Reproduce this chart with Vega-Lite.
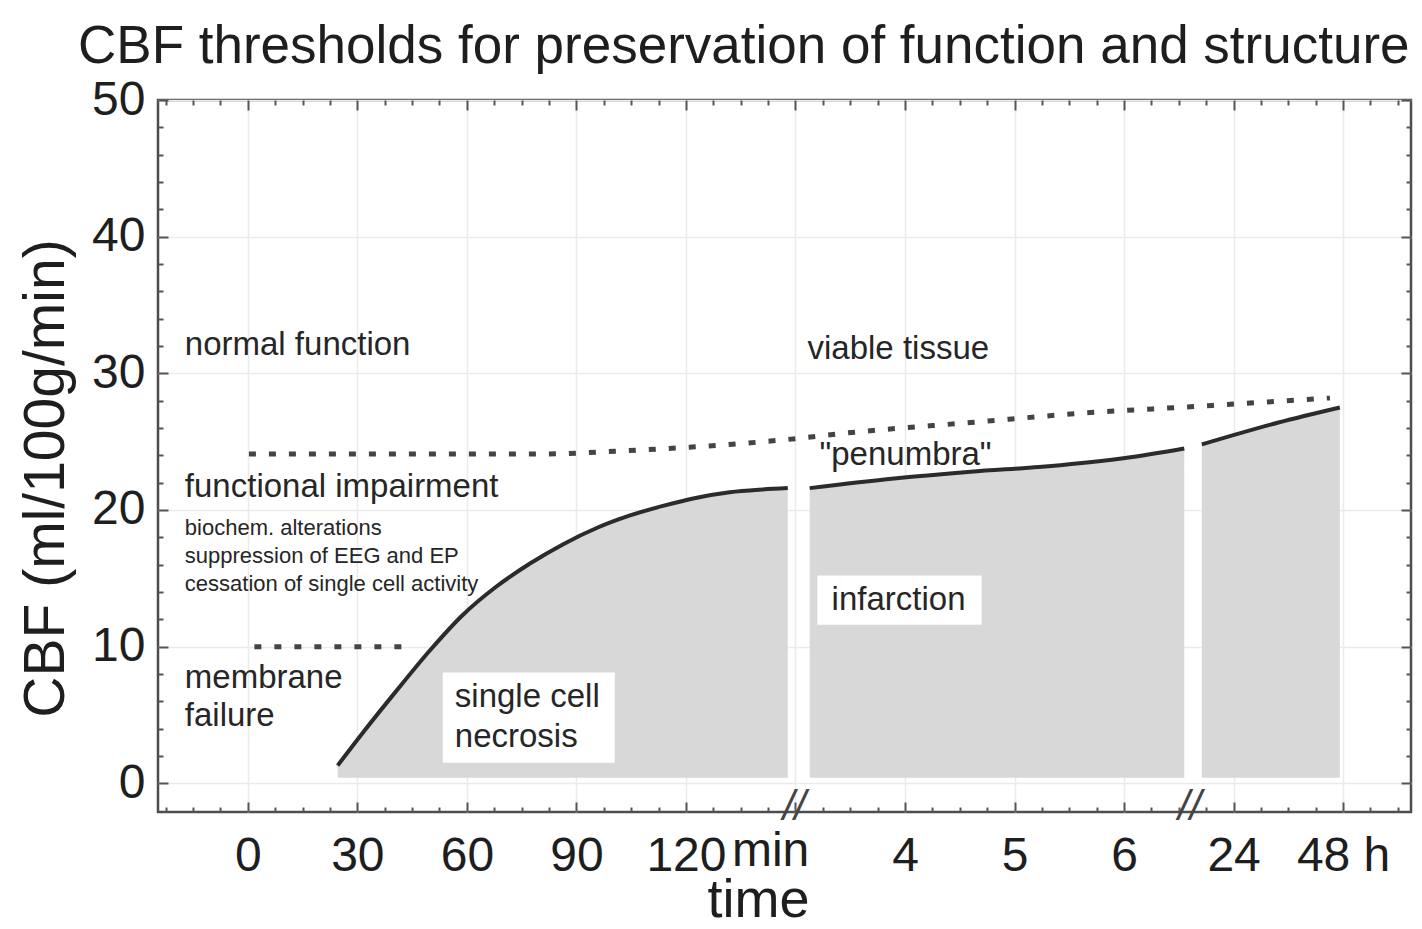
{
  "$schema": "https://vega.github.io/schema/vega-lite/v6.json",
  "width": 1253,
  "height": 712,
  "autosize": {"type": "none"},
  "padding": {"left": 158, "top": 100, "right": 11, "bottom": 117},
  "background": "white",
  "config": {
    "font": "Liberation Sans",
    "view": {"stroke": "#4d4d4d", "strokeWidth": 2.5},
    "axis": {
      "labelFont": "Liberation Sans",
      "labelFontSize": 48,
      "labelColor": "#1e1e1e",
      "tickColor": "#555555",
      "tickWidth": 2,
      "domain": false,
      "grid": false,
      "gridColor": "#ebebeb",
      "gridWidth": 1.5,
      "titleFont": "Liberation Sans",
      "titleFontWeight": "normal",
      "titleColor": "#1e1e1e"
    },
    "text": {"font": "Liberation Sans", "color": "#262626"}
  },
  "title": {
    "text": "CBF thresholds for preservation of function and structure",
    "anchor": "start",
    "frame": "group",
    "dx": -80,
    "offset": -40,
    "baseline": "alphabetic",
    "fontSize": 53,
    "fontWeight": "normal",
    "font": "Liberation Sans",
    "color": "#1e1e1e"
  },
  "datasets": {
    "curve": [
      {"seg": 1, "x": 0.82, "y": 1.3},
      {"seg": 1, "x": 1.05, "y": 3.7},
      {"seg": 1, "x": 1.36, "y": 6.8},
      {"seg": 1, "x": 1.66, "y": 9.7},
      {"seg": 1, "x": 1.96, "y": 12.3},
      {"seg": 1, "x": 2.27, "y": 14.4},
      {"seg": 1, "x": 2.58, "y": 16.1},
      {"seg": 1, "x": 2.88, "y": 17.5},
      {"seg": 1, "x": 3.19, "y": 18.7},
      {"seg": 1, "x": 3.49, "y": 19.6},
      {"seg": 1, "x": 3.79, "y": 20.3},
      {"seg": 1, "x": 4.1, "y": 20.9},
      {"seg": 1, "x": 4.4, "y": 21.3},
      {"seg": 1, "x": 4.7, "y": 21.5},
      {"seg": 1, "x": 4.93, "y": 21.6},
      {"seg": 2, "x": 5.13, "y": 21.6},
      {"seg": 2, "x": 5.9, "y": 22.3},
      {"seg": 2, "x": 6.6, "y": 22.8},
      {"seg": 2, "x": 7.31, "y": 23.2},
      {"seg": 2, "x": 8.01, "y": 23.8},
      {"seg": 2, "x": 8.55, "y": 24.5},
      {"seg": 3, "x": 8.71, "y": 24.8},
      {"seg": 3, "x": 9.41, "y": 26.4},
      {"seg": 3, "x": 9.97, "y": 27.5}
    ],
    "thresh": [
      {"grp": "upper", "x": 0.01, "y": 24.1},
      {"grp": "upper", "x": 2.7, "y": 24.1},
      {"grp": "upper", "x": 3.35, "y": 24.3},
      {"grp": "upper", "x": 4.05, "y": 24.6},
      {"grp": "upper", "x": 4.85, "y": 25.1},
      {"grp": "upper", "x": 5.55, "y": 25.7},
      {"grp": "upper", "x": 6.6, "y": 26.4},
      {"grp": "upper", "x": 7.65, "y": 27.1},
      {"grp": "upper", "x": 8.71, "y": 27.6},
      {"grp": "upper", "x": 9.88, "y": 28.2},
      {"grp": "lower", "x": 0.06, "y": 10.0},
      {"grp": "lower", "x": 1.48, "y": 10.0}
    ],
    "boxes": [
      {"x": 1.78, "x2": 3.35, "y": 1.5, "y2": 8.1},
      {"x": 5.2, "x2": 6.7, "y": 11.6, "y2": 15.2}
    ],
    "big": [
      {"x": -0.575, "y": 32.1, "label": "normal function"},
      {"x": 5.11, "y": 31.8, "label": "viable tissue"},
      {"x": -0.575, "y": 21.7, "label": "functional impairment"},
      {"x": -0.575, "y": 7.7, "label": "membrane"},
      {"x": -0.575, "y": 4.9, "label": "failure"},
      {"x": 1.89, "y": 6.3, "label": "single cell"},
      {"x": 1.89, "y": 3.4, "label": "necrosis"},
      {"x": 5.22, "y": 24.0, "label": "\"penumbra\""},
      {"x": 5.33, "y": 13.4, "label": "infarction"}
    ],
    "small": [
      {"x": -0.575, "y": 18.7, "label": "biochem. alterations"},
      {"x": -0.575, "y": 16.6, "label": "suppression of EEG and EP"},
      {"x": -0.575, "y": 14.6, "label": "cessation of single cell activity"}
    ],
    "unit": [
      {"x": 4.42, "y": -5.0, "label": "min"}
    ],
    "brk": [
      {"x": 4.99, "y": -1.7, "label": "//"},
      {"x": 8.6, "y": -1.7, "label": "//"}
    ]
  },
  "encoding": {
    "x": {"field": "x", "type": "quantitative", "scale": {"domain": [-0.82, 10.62], "nice": false, "zero": false}, "axis": null},
    "y": {"field": "y", "type": "quantitative", "scale": {"domain": [-2.1, 50], "nice": false, "zero": false}, "axis": null}
  },
  "layer": [
    {
      "data": {"name": "curve"},
      "mark": {"type": "area", "color": "#d8d8d8", "interpolate": "monotone"},
      "encoding": {
        "x": {
          "field": "x", "type": "quantitative",
          "scale": {"domain": [-0.82, 10.62], "nice": false, "zero": false},
          "axis": {
            "orient": "bottom",
            "values": [0, 1, 2, 3, 4, 5, 6, 7, 8, 9, 10],
            "labelExpr": "['0','30','60','90','120','','4','5','6','24','48 h'][datum.value]",
            "tickSize": -10,
            "labelPadding": 30,
            "labelFlush": false,
            "labelOverlap": false,
            "title": "time",
            "titleFontSize": 54,
            "titleX": 600,
            "titleY": 88,
            "titleAlign": "center",
            "titleBaseline": "middle"
          }
        },
        "y": {
          "field": "y", "type": "quantitative",
          "scale": {"domain": [-2.1, 50], "nice": false, "zero": false},
          "axis": {
            "orient": "left",
            "values": [0, 10, 20, 30, 40, 50],
            "tickSize": -10,
            "labelPadding": 23,
            "labelFlush": false,
            "labelOverlap": false,
            "labelBaseline": "middle",
            "title": "CBF (ml/100g/min)",
            "titleFontSize": 57,
            "titleX": -112,
            "titleY": 378,
            "titleAlign": "center",
            "titleBaseline": "middle",
            "titleAngle": -90
          }
        },
        "y2": {"datum": 0.4},
        "detail": {"field": "seg", "type": "nominal"}
      }
    },
    {
      "data": {"name": "boxes"},
      "mark": {"type": "rect", "color": "white"},
      "encoding": {
        "x": {
          "field": "x", "type": "quantitative",
          "scale": {"domain": [-0.82, 10.62], "nice": false, "zero": false},
          "axis": {
            "orient": "top",
            "values": [-0.75, -0.5, -0.25, 0.25, 0.5, 0.75, 1.25, 1.5, 1.75, 2.25, 2.5, 2.75, 3.25, 3.5, 3.75, 4.25, 4.5, 4.75, 5.25, 5.5, 5.75, 6.25, 6.5, 6.75, 7.25, 7.5, 7.75, 8.25, 8.5, 8.75, 9.25, 9.5, 9.75, 10.25, 10.5],
            "tickSize": -5,
            "labels": false,
            "title": null
          }
        },
        "x2": {"field": "x2"},
        "y": {
          "field": "y", "type": "quantitative",
          "scale": {"domain": [-2.1, 50], "nice": false, "zero": false},
          "axis": {
            "orient": "right",
            "values": [2, 4, 6, 8, 12, 14, 16, 18, 22, 24, 26, 28, 32, 34, 36, 38, 42, 44, 46, 48],
            "tickSize": -5,
            "labels": false,
            "title": null
          }
        },
        "y2": {"field": "y2"}
      }
    },
    {
      "data": {"name": "curve"},
      "mark": {"type": "line", "color": "#2b2b2b", "strokeWidth": 4, "interpolate": "monotone"},
      "encoding": {
        "x": {
          "field": "x", "type": "quantitative",
          "scale": {"domain": [-0.82, 10.62], "nice": false, "zero": false},
          "axis": {
            "orient": "top",
            "values": [0, 1, 2, 3, 4, 5, 6, 7, 8, 9, 10],
            "tickSize": -10,
            "labels": false,
            "grid": true,
            "title": null
          }
        },
        "y": {
          "field": "y", "type": "quantitative",
          "scale": {"domain": [-2.1, 50], "nice": false, "zero": false},
          "axis": {
            "orient": "right",
            "values": [0, 10, 20, 30, 40, 50],
            "tickSize": -10,
            "labels": false,
            "grid": true,
            "title": null
          }
        },
        "detail": {"field": "seg", "type": "nominal"}
      }
    },
    {
      "data": {"name": "thresh"},
      "mark": {"type": "line", "color": "#444444", "strokeWidth": 5, "strokeDash": [7, 13], "interpolate": "monotone"},
      "encoding": {
        "x": {
          "field": "x", "type": "quantitative",
          "scale": {"domain": [-0.82, 10.62], "nice": false, "zero": false},
          "axis": {
            "orient": "bottom",
            "values": [-0.75, -0.5, -0.25, 0.25, 0.5, 0.75, 1.25, 1.5, 1.75, 2.25, 2.5, 2.75, 3.25, 3.5, 3.75, 4.25, 4.5, 4.75, 5.25, 5.5, 5.75, 6.25, 6.5, 6.75, 7.25, 7.5, 7.75, 8.25, 8.5, 8.75, 9.25, 9.5, 9.75, 10.25, 10.5],
            "tickSize": -5,
            "labels": false,
            "title": null
          }
        },
        "y": {
          "field": "y", "type": "quantitative",
          "scale": {"domain": [-2.1, 50], "nice": false, "zero": false},
          "axis": {
            "orient": "left",
            "values": [2, 4, 6, 8, 12, 14, 16, 18, 22, 24, 26, 28, 32, 34, 36, 38, 42, 44, 46, 48],
            "tickSize": -5,
            "labels": false,
            "title": null
          }
        },
        "detail": {"field": "grp", "type": "nominal"}
      }
    },
    {
      "data": {"name": "big"},
      "mark": {"type": "text", "fontSize": 33, "align": "left", "baseline": "middle"},
      "encoding": {"text": {"field": "label"}}
    },
    {
      "data": {"name": "small"},
      "mark": {"type": "text", "fontSize": 22, "align": "left", "baseline": "middle"},
      "encoding": {"text": {"field": "label"}}
    },
    {
      "data": {"name": "unit"},
      "mark": {"type": "text", "fontSize": 48, "align": "left", "baseline": "middle", "color": "#1e1e1e"},
      "encoding": {"text": {"field": "label"}}
    },
    {
      "data": {"name": "brk"},
      "mark": {"type": "text", "fontSize": 42, "fontStyle": "italic", "align": "center", "baseline": "middle", "color": "#444444"},
      "encoding": {"text": {"field": "label"}}
    }
  ],
  "resolve": {"axis": {"x": "independent", "y": "independent"}}
}
